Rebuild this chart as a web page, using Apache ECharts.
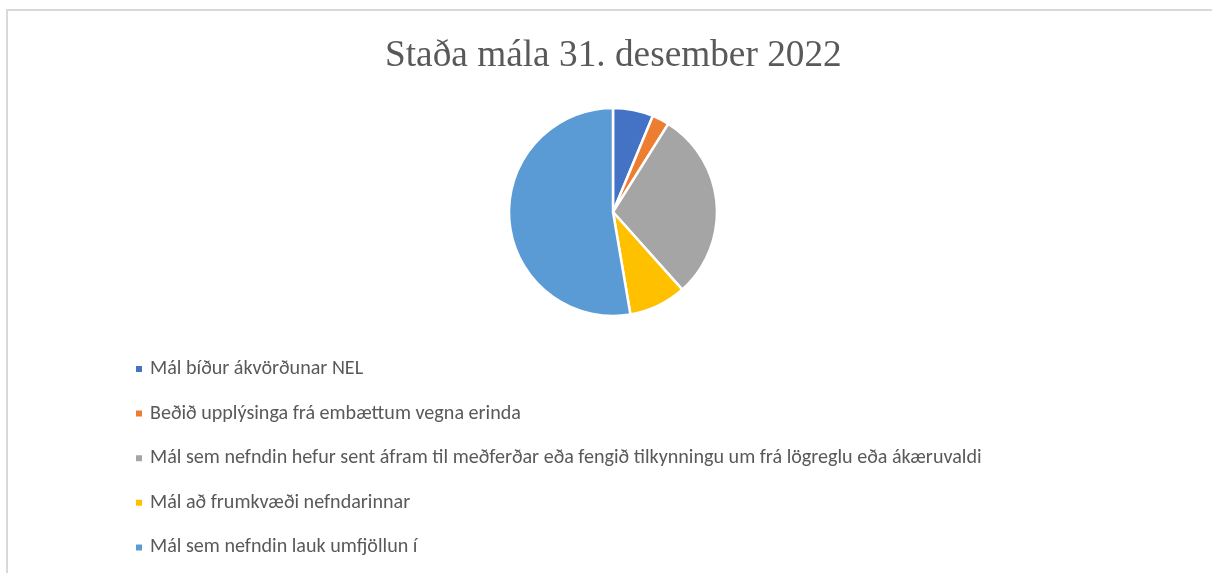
<!DOCTYPE html>
<html>
<head>
<meta charset="utf-8">
<script src="https://cdn.jsdelivr.net/npm/echarts@6/dist/echarts.min.js"></script>
<style>
  html, body { margin: 0; padding: 0; background: #fff; }
  #pieChart { width: 1213px; height: 573px; }
</style>
</head>
<body>
<div id="pieChart"></div>
<script>
// Staða mála
const categories = [
    'Mál bíður ákvörðunar NEL',
    'Beðið upplýsinga frá embættum vegna erinda',
    'Mál sem nefndin hefur sent áfram til meðferðar eða fengið tilkynningu um frá lögreglu eða ákæruvaldi',
    'Mál að frumkvæði nefndarinnar',
    'Mál sem nefndin lauk umfjöllun í'
]
const counts = [7, 3, 33, 10, 59]
const colors = ['#4472C4', '#ED7D31', '#A5A5A5', '#FFC000', '#5B9BD5']

const chart = echarts.init(document.getElementById('pieChart'))
const option = {
    color: colors,
    animation: false,
    title: {
        text: 'Staða mála 31. desember 2022',
        left: 380,
        top: 33,
        textStyle: {
            fontFamily: '"Liberation Serif", serif',
            fontWeight: 'normal',
            fontSize: 37.3,
            color: '#595959'
        }
    },
    legend: {
        orient: 'vertical',
        left: 129,
        top: 354,
        icon: 'rect',
        itemWidth: 8,
        itemHeight: 8,
        itemGap: 24.6,
        textStyle: {
            fontFamily: 'Carlito, "Open Sans", sans-serif',
            fontSize: 20.1,
            lineHeight: 20,
            color: '#595959',
            padding: [0, 0, 0, 2]
        }
    },
    graphic: [
        {
            type: 'polyline',
            shape: { points: [[7, 600], [7, 10], [1212, 10]] },
            style: { stroke: '#d9d9d9', lineWidth: 2, fill: null }
        }
    ],
    series: [
        {
            type: 'pie',
            center: [613, 212],
            radius: 104,
            startAngle: 90,
            clockwise: true,
            label: { show: false },
            labelLine: { show: false },
            emphasis: { disabled: true },
            itemStyle: { borderColor: '#fff', borderWidth: 2.5 },
            data: categories.map((name, i) => ({ name: name, value: counts[i] }))
        }
    ]
}
chart.setOption(option)
</script>
</body>
</html>
